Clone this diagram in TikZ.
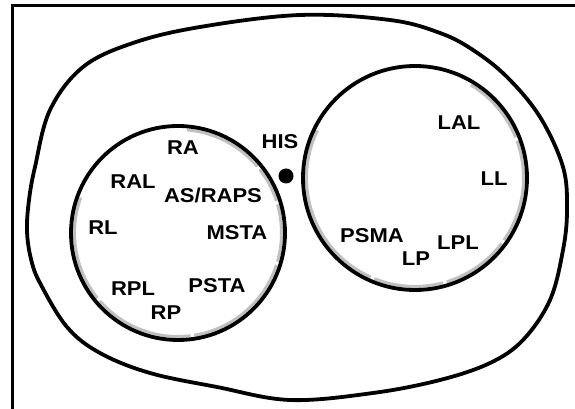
\documentclass[tikz,border=0pt]{standalone}
\usepackage{fontspec}
\newfontfamily\labelfont{Liberation Sans}[FakeStretch=1.1]
\definecolor{ringGray}{RGB}{192,192,192}

\begin{document}
\begin{tikzpicture}
[x=1pt,y=1pt,
  lineDecorate/.style={-,line width=3.8pt},%
  frameDecorate/.style={-,line width=3pt},
  ringDecorate/.style={-,line width=3pt,color=ringGray},
  labelDecorate/.style={font=\labelfont\bfseries\fontsize{20}{23}\selectfont,inner sep=0pt,text depth=0pt}]
\useasboundingbox (0,0) rectangle (575,409);
%% frame
\draw[frameDecorate] (12.5,0) -- (12.5,403.5) -- (575,403.5);
%% outer outline
\draw[lineDecorate] plot[smooth cycle,tension=0.6] coordinates {
  (27,178) (29,209) (35,242) (50,299) (83,342) (133,366) (200,382) (300,394)
  (390,389) (440,376) (473,359) (507,332) (540,292) (563,242) (567,199)
  (563,159) (550,109) (523,69) (490,46) (440,29) (373,16) (290,9)
  (217,22) (150,36) (100,56) (67,82) (40,126) (31,150)};
%% rings
\coordinate (tricuspid) at (178,176);
\coordinate (mitral) at (415,231);
\foreach \startangle/\endangle in {
  -200/-141, -139/-83, -81/-18, -16/16, 18/38, 40/85}
{
  \draw[ringDecorate] (tricuspid) ++(\startangle:103.5)
    arc[start angle=\startangle,end angle=\endangle,radius=103.5];
}
\foreach \startangle/\endangle in {
  -206/-114, -112/-75, -73/-37, -35/20, 22/59}
{
  \draw[ringDecorate] (mitral) ++(\startangle:108.5)
    arc[start angle=\startangle,end angle=\endangle,radius=108.5];
}
\draw[lineDecorate] (tricuspid) circle[radius=107];
\draw[lineDecorate] (mitral) circle[radius=112];
%% his bundle
\node (hisDot) at (286,233) [circle,fill,inner sep=0pt,minimum size=15pt] {};
%% labels
\foreach \nodename/\labeltext/\x/\y in {
  ra/RA/183/261,
  ral/RAL/133/227,
  asraps/{AS/RAPS}/213/214,
  rl/RL/103/181,
  msta/MSTA/237/176,
  rpl/RPL/133/120,
  psta/PSTA/217/123,
  rp/RP/166/96,
  his/HIS/280/267,
  lal/LAL/459/286,
  ll/LL/494/230,
  psma/PSMA/372/173,
  lpl/LPL/458/166,
  lp/LP/416/150}
{
  \node (\nodename) at (\x,\y) [labelDecorate] {\labeltext};
}
\end{tikzpicture}
\end{document}
